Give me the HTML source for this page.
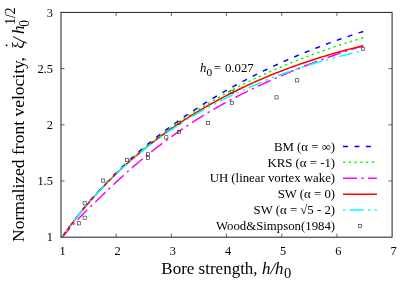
<!DOCTYPE html>
<html><head><meta charset="utf-8"><style>
html,body{margin:0;padding:0;background:#fff;}
svg{display:block;will-change:transform;font-family:"Liberation Serif",serif;}
.c{fill:none;stroke-width:1.5}
.bm{stroke:#0000ff;stroke-dasharray:5 6.45;stroke-dashoffset:-2}
.lbm{stroke-dashoffset:0}
.krs{stroke:#00ff00;stroke-dasharray:2.3 3.45}
.mag{stroke:#ff00ff;stroke-dasharray:14 4.4 2.3 4.4}
.red{stroke:#ff0000}
.cy{stroke:#00ffff;stroke-dasharray:14 4.4 2.3 4.4 2.3 4.4;stroke-dashoffset:10}
.lcy{stroke-dasharray:14 4.4 2.3 4.4 2.3 4.4;stroke-dashoffset:25.1}
.mk rect{fill:none;stroke:#333;stroke-width:0.65}
.t{font-size:12.8px;fill:#000}
.tl{font-size:12.4px}
.ax{font-size:17px;fill:#000}
.fr{fill:none;stroke:#303030;stroke-width:1.08}
.tk path{stroke:#555;stroke-width:0.9;fill:none}
</style></head><body>
<svg width="415" height="291" viewBox="0 0 415 291">
<rect width="415" height="291" fill="#fff"/>
<g class="tk"><path d="M116.18,237.2 v-3.6 M116.18,12.45 v3.6"/><path d="M171.37,237.2 v-3.6 M171.37,12.45 v3.6"/><path d="M226.55,237.2 v-3.6 M226.55,12.45 v3.6"/><path d="M281.73,237.2 v-3.6 M281.73,12.45 v3.6"/><path d="M336.92,237.2 v-3.6 M336.92,12.45 v3.6"/><path d="M61.0,181.01 h3.6 M392.1,181.01 h-3.6"/><path d="M61.0,124.82 h3.6 M392.1,124.82 h-3.6"/><path d="M61.0,68.64 h3.6 M392.1,68.64 h-3.6"/></g>
<clipPath id="cp"><rect x="61.0" y="12.45" width="331.10" height="224.75"/></clipPath>
<g clip-path="url(#cp)">
<path class="c bm" d="M61.00,238.73 L62.52,236.52 L64.04,234.34 L65.56,232.18 L67.08,230.06 L68.60,227.96 L70.11,225.88 L71.63,223.83 L73.15,221.81 L74.67,219.81 L76.19,217.83 L77.71,215.88 L79.23,213.95 L80.75,212.04 L82.27,210.15 L83.79,208.28 L85.31,206.44 L86.82,204.61 L88.34,202.81 L89.86,201.02 L91.38,199.25 L92.90,197.50 L94.42,195.77 L95.94,194.06 L97.46,192.36 L98.98,190.68 L100.50,189.02 L102.01,187.37 L103.53,185.74 L105.05,184.13 L106.57,182.53 L108.09,180.95 L109.61,179.38 L111.13,177.83 L112.65,176.29 L114.17,174.77 L115.69,173.26 L117.21,171.76 L118.72,170.28 L120.24,168.81 L121.76,167.35 L123.28,165.91 L124.80,164.48 L126.32,163.06 L127.84,161.65 L129.36,160.26 L130.88,158.88 L132.40,157.51 L133.92,156.15 L135.43,154.80 L136.95,153.47 L138.47,152.15 L139.99,150.83 L141.51,149.53 L143.03,148.24 L144.55,146.96 L146.07,145.69 L147.59,144.42 L149.11,143.17 L150.62,141.93 L152.14,140.70 L153.66,139.48 L155.18,138.27 L156.70,137.07 L158.22,135.87 L159.74,134.69 L161.26,133.52 L162.78,132.35 L164.30,131.19 L165.82,130.05 L167.33,128.91 L168.85,127.78 L170.37,126.65 L171.89,125.54 L173.41,124.44 L174.93,123.34 L176.45,122.25 L177.97,121.17 L179.49,120.09 L181.01,119.03 L182.53,117.97 L184.04,116.92 L185.56,115.88 L187.08,114.84 L188.60,113.81 L190.12,112.79 L191.64,111.78 L193.16,110.77 L194.68,109.77 L196.20,108.78 L197.72,107.80 L199.24,106.82 L200.75,105.85 L202.27,104.88 L203.79,103.92 L205.31,102.97 L206.83,102.03 L208.35,101.09 L209.87,100.16 L211.39,99.23 L212.91,98.31 L214.43,97.40 L215.94,96.49 L217.46,95.59 L218.98,94.70 L220.50,93.81 L222.02,92.93 L223.54,92.05 L225.06,91.18 L226.58,90.31 L228.10,89.45 L229.62,88.60 L231.14,87.75 L232.65,86.91 L234.17,86.07 L235.69,85.24 L237.21,84.41 L238.73,83.59 L240.25,82.78 L241.77,81.97 L243.29,81.16 L244.81,80.36 L246.33,79.57 L247.85,78.78 L249.36,78.00 L250.88,77.22 L252.40,76.44 L253.92,75.67 L255.44,74.91 L256.96,74.15 L258.48,73.40 L260.00,72.65 L261.52,71.90 L263.04,71.16 L264.55,70.43 L266.07,69.70 L267.59,68.97 L269.11,68.25 L270.63,67.53 L272.15,66.82 L273.67,66.12 L275.19,65.41 L276.71,64.71 L278.23,64.02 L279.75,63.33 L281.26,62.65 L282.78,61.96 L284.30,61.29 L285.82,60.62 L287.34,59.95 L288.86,59.28 L290.38,58.62 L291.90,57.97 L293.42,57.32 L294.94,56.67 L296.46,56.03 L297.97,55.39 L299.49,54.75 L301.01,54.12 L302.53,53.50 L304.05,52.87 L305.57,52.25 L307.09,51.64 L308.61,51.03 L310.13,50.42 L311.65,49.82 L313.17,49.22 L314.68,48.62 L316.20,48.03 L317.72,47.44 L319.24,46.85 L320.76,46.27 L322.28,45.70 L323.80,45.12 L325.32,44.55 L326.84,43.99 L328.36,43.42 L329.87,42.86 L331.39,42.31 L332.91,41.76 L334.43,41.21 L335.95,40.66 L337.47,40.12 L338.99,39.58 L340.51,39.05 L342.03,38.51 L343.55,37.99 L345.07,37.46 L346.58,36.94 L348.10,36.42 L349.62,35.91 L351.14,35.40 L352.66,34.89 L354.18,34.38 L355.70,33.88 L357.22,33.38 L358.74,32.89 L360.26,32.39 L361.78,31.91 L363.29,31.42"/>
<path class="c krs" d="M61.00,238.73 L62.52,236.52 L64.04,234.34 L65.56,232.18 L67.08,230.06 L68.60,227.96 L70.11,225.89 L71.63,223.85 L73.15,221.83 L74.67,219.83 L76.19,217.86 L77.71,215.91 L79.23,213.99 L80.75,212.09 L82.27,210.21 L83.79,208.35 L85.31,206.51 L86.82,204.70 L88.34,202.90 L89.86,201.13 L91.38,199.37 L92.90,197.63 L94.42,195.91 L95.94,194.21 L97.46,192.53 L98.98,190.87 L100.50,189.22 L102.01,187.59 L103.53,185.97 L105.05,184.38 L106.57,182.80 L108.09,181.23 L109.61,179.68 L111.13,178.15 L112.65,176.63 L114.17,175.12 L115.69,173.63 L117.21,172.16 L118.72,170.69 L120.24,169.25 L121.76,167.81 L123.28,166.39 L124.80,164.98 L126.32,163.59 L127.84,162.21 L129.36,160.84 L130.88,159.48 L132.40,158.13 L133.92,156.80 L135.43,155.48 L136.95,154.17 L138.47,152.87 L139.99,151.59 L141.51,150.31 L143.03,149.05 L144.55,147.79 L146.07,146.55 L147.59,145.32 L149.11,144.10 L150.62,142.88 L152.14,141.68 L153.66,140.49 L155.18,139.31 L156.70,138.14 L158.22,136.98 L159.74,135.82 L161.26,134.68 L162.78,133.55 L164.30,132.42 L165.82,131.31 L167.33,130.20 L168.85,129.10 L170.37,128.01 L171.89,126.93 L173.41,125.86 L174.93,124.80 L176.45,123.74 L177.97,122.70 L179.49,121.66 L181.01,120.63 L182.53,119.60 L184.04,118.59 L185.56,117.58 L187.08,116.58 L188.60,115.59 L190.12,114.60 L191.64,113.63 L193.16,112.66 L194.68,111.69 L196.20,110.74 L197.72,109.79 L199.24,108.85 L200.75,107.92 L202.27,106.99 L203.79,106.07 L205.31,105.15 L206.83,104.25 L208.35,103.35 L209.87,102.45 L211.39,101.57 L212.91,100.69 L214.43,99.81 L215.94,98.94 L217.46,98.08 L218.98,97.22 L220.50,96.38 L222.02,95.53 L223.54,94.69 L225.06,93.86 L226.58,93.04 L228.10,92.22 L229.62,91.40 L231.14,90.59 L232.65,89.79 L234.17,89.00 L235.69,88.20 L237.21,87.42 L238.73,86.64 L240.25,85.86 L241.77,85.09 L243.29,84.33 L244.81,83.57 L246.33,82.82 L247.85,82.07 L249.36,81.32 L250.88,80.59 L252.40,79.85 L253.92,79.13 L255.44,78.40 L256.96,77.68 L258.48,76.97 L260.00,76.26 L261.52,75.56 L263.04,74.86 L264.55,74.17 L266.07,73.48 L267.59,72.79 L269.11,72.11 L270.63,71.44 L272.15,70.77 L273.67,70.10 L275.19,69.44 L276.71,68.78 L278.23,68.13 L279.75,67.48 L281.26,66.84 L282.78,66.20 L284.30,65.56 L285.82,64.93 L287.34,64.30 L288.86,63.68 L290.38,63.06 L291.90,62.45 L293.42,61.84 L294.94,61.23 L296.46,60.63 L297.97,60.03 L299.49,59.44 L301.01,58.85 L302.53,58.26 L304.05,57.68 L305.57,57.10 L307.09,56.53 L308.61,55.96 L310.13,55.39 L311.65,54.83 L313.17,54.27 L314.68,53.71 L316.20,53.16 L317.72,52.61 L319.24,52.07 L320.76,51.53 L322.28,50.99 L323.80,50.46 L325.32,49.93 L326.84,49.40 L328.36,48.88 L329.87,48.36 L331.39,47.84 L332.91,47.33 L334.43,46.82 L335.95,46.31 L337.47,45.81 L338.99,45.31 L340.51,44.81 L342.03,44.32 L343.55,43.83 L345.07,43.35 L346.58,42.86 L348.10,42.38 L349.62,41.91 L351.14,41.43 L352.66,40.97 L354.18,40.50 L355.70,40.03 L357.22,39.57 L358.74,39.12 L360.26,38.66 L361.78,38.21 L363.29,37.76"/>
<path class="c mag" d="M61.00,238.73 L62.52,236.89 L64.04,235.08 L65.56,233.30 L67.08,231.53 L68.60,229.78 L70.11,228.05 L71.63,226.34 L73.15,224.65 L74.67,222.98 L76.19,221.32 L77.71,219.68 L79.23,218.05 L80.75,216.45 L82.27,214.86 L83.79,213.30 L85.31,211.75 L86.82,210.23 L88.34,208.74 L89.86,207.27 L91.38,205.80 L92.90,204.35 L94.42,202.89 L95.94,201.42 L97.46,199.94 L98.98,198.47 L100.50,197.00 L102.01,195.55 L103.53,194.09 L105.05,192.65 L106.57,191.20 L108.09,189.75 L109.61,188.31 L111.13,186.86 L112.65,185.42 L114.17,183.98 L115.69,182.56 L117.21,181.14 L118.72,179.74 L120.24,178.34 L121.76,176.96 L123.28,175.58 L124.80,174.21 L126.32,172.85 L127.84,171.50 L129.36,170.16 L130.88,168.82 L132.40,167.50 L133.92,166.19 L135.43,164.88 L136.95,163.59 L138.47,162.30 L139.99,161.03 L141.51,159.76 L143.03,158.51 L144.55,157.26 L146.07,156.02 L147.59,154.79 L149.11,153.58 L150.62,152.37 L152.14,151.16 L153.66,149.97 L155.18,148.79 L156.70,147.62 L158.22,146.45 L159.74,145.29 L161.26,144.15 L162.78,143.01 L164.30,141.88 L165.82,140.75 L167.33,139.64 L168.85,138.53 L170.37,137.44 L171.89,136.35 L173.41,135.27 L174.93,134.19 L176.45,133.13 L177.97,132.07 L179.49,131.02 L181.01,129.97 L182.53,128.93 L184.04,127.90 L185.56,126.88 L187.08,125.87 L188.60,124.86 L190.12,123.86 L191.64,122.87 L193.16,121.88 L194.68,120.90 L196.20,119.94 L197.72,118.98 L199.24,118.02 L200.75,117.08 L202.27,116.14 L203.79,115.21 L205.31,114.29 L206.83,113.38 L208.35,112.47 L209.87,111.57 L211.39,110.68 L212.91,109.80 L214.43,108.92 L215.94,108.04 L217.46,107.18 L218.98,106.32 L220.50,105.47 L222.02,104.62 L223.54,103.78 L225.06,102.94 L226.58,102.11 L228.10,101.29 L229.62,100.47 L231.14,99.66 L232.65,98.86 L234.17,98.06 L235.69,97.27 L237.21,96.48 L238.73,95.70 L240.25,94.92 L241.77,94.15 L243.29,93.39 L244.81,92.63 L246.33,91.88 L247.85,91.12 L249.36,90.38 L250.88,89.64 L252.40,88.90 L253.92,88.17 L255.44,87.44 L256.96,86.72 L258.48,86.00 L260.00,85.28 L261.52,84.57 L263.04,83.87 L264.55,83.17 L266.07,82.47 L267.59,81.78 L269.11,81.09 L270.63,80.41 L272.15,79.73 L273.67,79.05 L275.19,78.38 L276.71,77.71 L278.23,77.05 L279.75,76.39 L281.26,75.74 L282.78,75.09 L284.30,74.44 L285.82,73.80 L287.34,73.16 L288.86,72.52 L290.38,71.89 L291.90,71.27 L293.42,70.64 L294.94,70.03 L296.46,69.41 L297.97,68.80 L299.49,68.19 L301.01,67.59 L302.53,66.99 L304.05,66.39 L305.57,65.79 L307.09,65.20 L308.61,64.62 L310.13,64.03 L311.65,63.45 L313.17,62.88 L314.68,62.30 L316.20,61.73 L317.72,61.17 L319.24,60.60 L320.76,60.05 L322.28,59.49 L323.80,58.94 L325.32,58.39 L326.84,57.85 L328.36,57.30 L329.87,56.77 L331.39,56.23 L332.91,55.70 L334.43,55.17 L335.95,54.65 L337.47,54.12 L338.99,53.60 L340.51,53.09 L342.03,52.58 L343.55,52.07 L345.07,51.56 L346.58,51.06 L348.10,50.56 L349.62,50.06 L351.14,49.57 L352.66,49.08 L354.18,48.59 L355.70,48.10 L357.22,47.62 L358.74,47.14 L360.26,46.66 L361.78,46.19 L363.29,45.72"/>
<path class="c red" d="M61.00,238.73 L62.52,236.54 L64.04,234.37 L65.56,232.24 L67.08,230.14 L68.60,228.06 L70.11,226.01 L71.63,223.98 L73.15,221.98 L74.67,220.00 L76.19,218.05 L77.71,216.12 L79.23,214.22 L80.75,212.33 L82.27,210.47 L83.79,208.63 L85.31,206.81 L86.82,205.02 L88.34,203.24 L89.86,201.48 L91.38,199.74 L92.90,198.02 L94.42,196.32 L95.94,194.64 L97.46,192.98 L98.98,191.33 L100.50,189.70 L102.01,188.09 L103.53,186.49 L105.05,184.91 L106.57,183.35 L108.09,181.80 L109.61,180.27 L111.13,178.75 L112.65,177.25 L114.17,175.77 L115.69,174.29 L117.21,172.84 L118.72,171.39 L120.24,169.96 L121.76,168.55 L123.28,167.14 L124.80,165.76 L126.32,164.38 L127.84,163.02 L129.36,161.67 L130.88,160.33 L132.40,159.00 L133.92,157.69 L135.43,156.39 L136.95,155.10 L138.47,153.82 L139.99,152.55 L141.51,151.30 L143.03,150.05 L144.55,148.82 L146.07,147.60 L147.59,146.38 L149.11,145.18 L150.62,143.99 L152.14,142.81 L153.66,141.64 L155.18,140.48 L156.70,139.33 L158.22,138.19 L159.74,137.06 L161.26,135.94 L162.78,134.83 L164.30,133.73 L165.82,132.64 L167.33,131.56 L168.85,130.48 L170.37,129.42 L171.89,128.36 L173.41,127.31 L174.93,126.27 L176.45,125.24 L177.97,124.22 L179.49,123.21 L181.01,122.21 L182.53,121.21 L184.04,120.22 L185.56,119.24 L187.08,118.27 L188.60,117.30 L190.12,116.35 L191.64,115.40 L193.16,114.46 L194.68,113.52 L196.20,112.60 L197.72,111.68 L199.24,110.77 L200.75,109.86 L202.27,108.97 L203.79,108.08 L205.31,107.20 L206.83,106.32 L208.35,105.45 L209.87,104.59 L211.39,103.74 L212.91,102.89 L214.43,102.05 L215.94,101.22 L217.46,100.39 L218.98,99.57 L220.50,98.76 L222.02,97.95 L223.54,97.15 L225.06,96.35 L226.58,95.56 L228.10,94.78 L229.62,94.01 L231.14,93.24 L232.65,92.47 L234.17,91.71 L235.69,90.96 L237.21,90.22 L238.73,89.48 L240.25,88.74 L241.77,88.02 L243.29,87.29 L244.81,86.58 L246.33,85.87 L247.85,85.16 L249.36,84.46 L250.88,83.77 L252.40,83.08 L253.92,82.40 L255.44,81.72 L256.96,81.05 L258.48,80.38 L260.00,79.72 L261.52,79.07 L263.04,78.42 L264.55,77.77 L266.07,77.13 L267.59,76.50 L269.11,75.87 L270.63,75.24 L272.15,74.63 L273.67,74.01 L275.19,73.40 L276.71,72.80 L278.23,72.20 L279.75,71.61 L281.26,71.02 L282.78,70.43 L284.30,69.85 L285.82,69.28 L287.34,68.71 L288.86,68.14 L290.38,67.58 L291.90,67.03 L293.42,66.47 L294.94,65.93 L296.46,65.39 L297.97,64.85 L299.49,64.32 L301.01,63.79 L302.53,63.26 L304.05,62.75 L305.57,62.23 L307.09,61.72 L308.61,61.21 L310.13,60.71 L311.65,60.22 L313.17,59.72 L314.68,59.24 L316.20,58.75 L317.72,58.27 L319.24,57.80 L320.76,57.32 L322.28,56.86 L323.80,56.39 L325.32,55.94 L326.84,55.48 L328.36,55.03 L329.87,54.58 L331.39,54.14 L332.91,53.70 L334.43,53.27 L335.95,52.84 L337.47,52.41 L338.99,51.99 L340.51,51.57 L342.03,51.16 L343.55,50.75 L345.07,50.34 L346.58,49.94 L348.10,49.54 L349.62,49.14 L351.14,48.75 L352.66,48.36 L354.18,47.98 L355.70,47.60 L357.22,47.22 L358.74,46.85 L360.26,46.48 L361.78,46.12 L363.29,45.76"/>
<path class="c cy" d="M61.00,238.73 L62.52,236.54 L64.04,234.37 L65.56,232.24 L67.08,230.14 L68.60,228.06 L70.11,226.01 L71.63,223.98 L73.15,221.98 L74.67,220.00 L76.19,218.05 L77.71,216.12 L79.23,214.22 L80.75,212.33 L82.27,210.47 L83.79,208.63 L85.31,206.81 L86.82,205.02 L88.34,203.24 L89.86,201.48 L91.38,199.74 L92.90,198.02 L94.42,196.32 L95.94,194.64 L97.46,192.98 L98.98,191.33 L100.50,189.70 L102.01,188.09 L103.53,186.49 L105.05,184.91 L106.57,183.35 L108.09,181.80 L109.61,180.27 L111.13,178.75 L112.65,177.25 L114.17,175.77 L115.69,174.29 L117.21,172.84 L118.72,171.40 L120.24,169.97 L121.76,168.56 L123.28,167.17 L124.80,165.80 L126.32,164.43 L127.84,163.09 L129.36,161.75 L130.88,160.44 L132.40,159.13 L133.92,157.84 L135.43,156.56 L136.95,155.29 L138.47,154.04 L139.99,152.79 L141.51,151.56 L143.03,150.34 L144.55,149.13 L146.07,147.94 L147.59,146.75 L149.11,145.59 L150.62,144.43 L152.14,143.29 L153.66,142.16 L155.18,141.04 L156.70,139.93 L158.22,138.83 L159.74,137.75 L161.26,136.67 L162.78,135.60 L164.30,134.55 L165.82,133.50 L167.33,132.45 L168.85,131.42 L170.37,130.39 L171.89,129.37 L173.41,128.36 L174.93,127.36 L176.45,126.36 L177.97,125.37 L179.49,124.39 L181.01,123.42 L182.53,122.45 L184.04,121.50 L185.56,120.55 L187.08,119.61 L188.60,118.68 L190.12,117.75 L191.64,116.83 L193.16,115.93 L194.68,115.03 L196.20,114.13 L197.72,113.25 L199.24,112.38 L200.75,111.51 L202.27,110.65 L203.79,109.80 L205.31,108.96 L206.83,108.12 L208.35,107.29 L209.87,106.48 L211.39,105.66 L212.91,104.86 L214.43,104.06 L215.94,103.27 L217.46,102.49 L218.98,101.71 L220.50,100.94 L222.02,100.18 L223.54,99.42 L225.06,98.67 L226.58,97.92 L228.10,97.18 L229.62,96.45 L231.14,95.72 L232.65,95.00 L234.17,94.28 L235.69,93.57 L237.21,92.86 L238.73,92.16 L240.25,91.46 L241.77,90.77 L243.29,90.08 L244.81,89.40 L246.33,88.72 L247.85,88.05 L249.36,87.38 L250.88,86.71 L252.40,86.05 L253.92,85.39 L255.44,84.74 L256.96,84.09 L258.48,83.45 L260.00,82.81 L261.52,82.18 L263.04,81.55 L264.55,80.92 L266.07,80.30 L267.59,79.69 L269.11,79.08 L270.63,78.48 L272.15,77.88 L273.67,77.29 L275.19,76.70 L276.71,76.12 L278.23,75.54 L279.75,74.97 L281.26,74.41 L282.78,73.85 L284.30,73.30 L285.82,72.75 L287.34,72.20 L288.86,71.66 L290.38,71.13 L291.90,70.60 L293.42,70.08 L294.94,69.56 L296.46,69.05 L297.97,68.54 L299.49,68.03 L301.01,67.53 L302.53,67.04 L304.05,66.55 L305.57,66.07 L307.09,65.59 L308.61,65.11 L310.13,64.64 L311.65,64.17 L313.17,63.71 L314.68,63.25 L316.20,62.80 L317.72,62.35 L319.24,61.90 L320.76,61.46 L322.28,61.03 L323.80,60.60 L325.32,60.17 L326.84,59.75 L328.36,59.33 L329.87,58.92 L331.39,58.51 L332.91,58.10 L334.43,57.70 L335.95,57.30 L337.47,56.91 L338.99,56.52 L340.51,56.14 L342.03,55.76 L343.55,55.38 L345.07,55.01 L346.58,54.64 L348.10,54.27 L349.62,53.91 L351.14,53.56 L352.66,53.21 L354.18,52.86 L355.70,52.51 L357.22,52.17 L358.74,51.84 L360.26,51.51 L361.78,51.18 L363.29,50.85"/>
</g>
<g class="mk"><rect x="77.4" y="221.7" width="3.2" height="3.2"/><rect x="83.1" y="216.1" width="3.2" height="3.2"/><rect x="83.1" y="201.7" width="3.2" height="3.2"/><rect x="101.3" y="179.0" width="3.2" height="3.2"/><rect x="125.4" y="158.5" width="3.2" height="3.2"/><rect x="146.3" y="152.7" width="3.2" height="3.2"/><rect x="146.3" y="156.2" width="3.2" height="3.2"/><rect x="164.7" y="135.7" width="3.2" height="3.2"/><rect x="177.3" y="130.4" width="3.2" height="3.2"/><rect x="177.3" y="121.3" width="3.2" height="3.2"/><rect x="206.5" y="121.3" width="3.2" height="3.2"/><rect x="230.2" y="90.3" width="3.2" height="3.2"/><rect x="230.2" y="101.4" width="3.2" height="3.2"/><rect x="274.9" y="95.8" width="3.2" height="3.2"/><rect x="295.6" y="78.7" width="3.2" height="3.2"/><rect x="361.4" y="47.3" width="3.2" height="3.2"/></g>
<rect class="fr" x="61.0" y="12.45" width="331.10" height="224.75"/>
<g class="t"><text class="tl" x="62.5" y="254.5" text-anchor="middle">1</text><text class="tl" x="117.7" y="254.5" text-anchor="middle">2</text><text class="tl" x="172.9" y="254.5" text-anchor="middle">3</text><text class="tl" x="228.1" y="254.5" text-anchor="middle">4</text><text class="tl" x="283.2" y="254.5" text-anchor="middle">5</text><text class="tl" x="338.4" y="254.5" text-anchor="middle">6</text><text class="tl" x="393.6" y="254.5" text-anchor="middle">7</text><text class="tl" x="52.9" y="241.3" text-anchor="end">1</text><text class="tl" x="52.9" y="185.1" text-anchor="end">1.5</text><text class="tl" x="52.9" y="128.9" text-anchor="end">2</text><text class="tl" x="52.9" y="72.7" text-anchor="end">2.5</text><text class="tl" x="52.9" y="16.5" text-anchor="end">3</text><text x="335.1" y="150.6" text-anchor="end">BM (α = ∞)</text><path class="c bm lbm" d="M343,146.4 H376.9"/><text x="335.1" y="166.5" text-anchor="end">KRS (α = -1)</text><path class="c krs lkrs" d="M343,162.3 H376.9"/><text x="335.1" y="182.4" text-anchor="end">UH (linear vortex wake)</text><path class="c mag lmag" d="M343,178.2 H376.9"/><text x="335.1" y="198.4" text-anchor="end">SW (α = 0)</text><path class="c red lred" d="M343,194.2 H376.9"/><text x="335.1" y="214.3" text-anchor="end">SW (α = √5 - 2)</text><path class="c cy lcy" d="M343,210.1 H376.9"/><text x="335.1" y="230.2" text-anchor="end">Wood&amp;Simpson(1984)</text><g class="mk"><rect x="358.4" y="224.5" width="3" height="3"/></g>
<text x="200.1" y="71.8"><tspan font-style="italic">h</tspan><tspan font-size="11.4" dy="4.2">0</tspan><tspan dy="-4.2" x="213.7">=</tspan><tspan x="224.9">0.027</tspan></text>
</g>
<text class="ax" x="161.3" y="273.6" font-size="17.2">Bore strength, <tspan font-style="italic">h/h</tspan><tspan font-size="14.5" dy="4.6" dx="0.5">0</tspan></text>
<g class="ax" transform="translate(23.8,241.4) rotate(-90)">
<text x="-0.6" y="0" font-size="17.5">Normalized front velocity,</text>
<text x="192.6" y="0">ξ</text>
<text x="199.4" y="0" font-style="italic">/</text>
<text x="207.4" y="0" font-style="italic">h</text>
<text x="214.6" y="4.8" font-size="13.6">0</text>
<text x="216.6" y="-9" font-size="13.6">1/2</text>
<circle cx="196" cy="-17.2" r="0.9" fill="#000"/>
</g>
</svg>
</body></html>
